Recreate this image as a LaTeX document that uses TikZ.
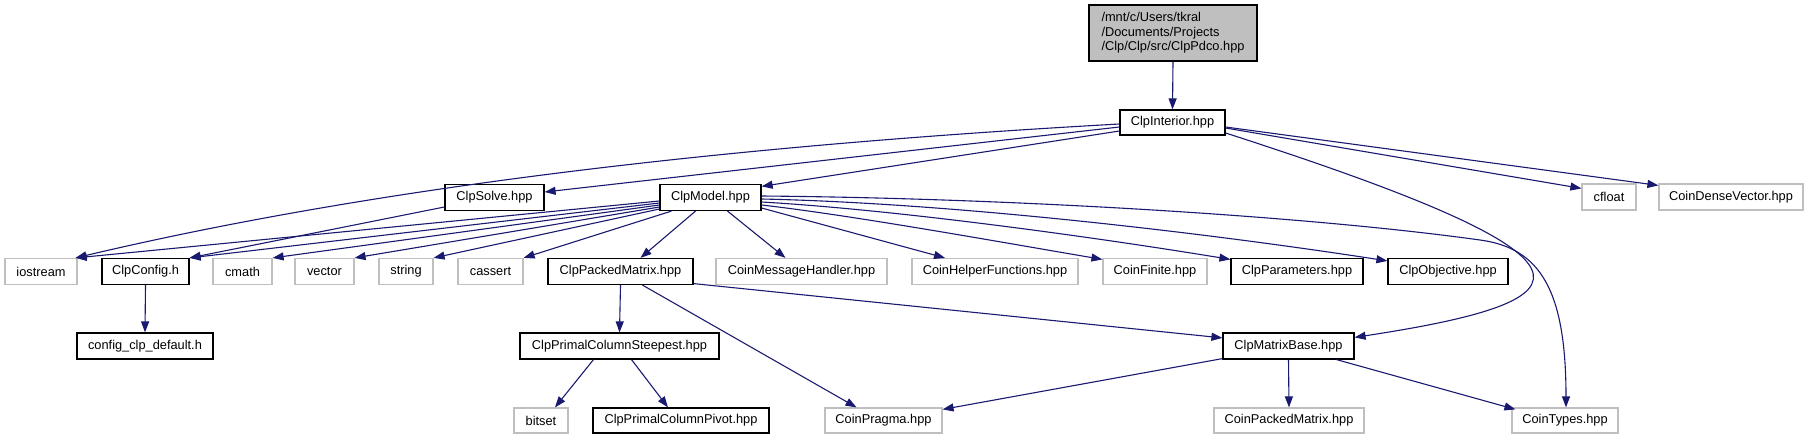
\documentclass[tikz,border=0pt]{standalone}
\usepackage{fontspec}
\setmainfont{Liberation Sans}
\usetikzlibrary{arrows.meta}
\definecolor{edgecol}{HTML}{191970}
\definecolor{grayb}{HTML}{BFBFBF}
\begin{document}
\begin{tikzpicture}[x=1pt,y=-1pt,
  box/.style={draw=black, line width=1.2pt, inner sep=0pt, minimum height=26pt, fill=white,
              font=\fontsize{12.8pt}{14.5pt}\selectfont},
  ext/.style={box, draw=grayb},
  edge/.style={draw=edgecol, line width=1.1pt, -{Triangle[length=11pt,width=8pt]}},
]
\useasboundingbox (0,0) rectangle (1812,440);
% nodes
\node[box, fill=grayb, minimum width=168pt, minimum height=56pt, align=left] (top) at (1173,33)
  {/mnt/c/Users/tkral\\/Documents/Projects\\/Clp/Clp/src/ClpPdco.hpp};
\node[box, minimum width=105pt, minimum height=25pt] (interior) at (1172.5,122.5) {ClpInterior.hpp};
\node[box, minimum width=99pt] (solve) at (494.5,197.5) {ClpSolve.hpp};
\node[box, minimum width=101pt] (model) at (710.5,197.5) {ClpModel.hpp};
\node[ext, minimum width=54pt] (cfloat) at (1609,197) {cfloat};
\node[ext, minimum width=144pt] (dense) at (1731,197) {CoinDenseVector.hpp};
% row 3
\node[ext, minimum width=72pt] (iostream) at (41,271.5) {iostream};
\node[box, minimum width=87pt] (config) at (145.5,271.5) {ClpConfig.h};
\node[ext, minimum width=59pt] (cmath) at (242.5,271.5) {cmath};
\node[ext, minimum width=59pt] (vector) at (324.5,271.5) {vector};
\node[ext, minimum width=54pt] (string) at (406,271.5) {string};
\node[ext, minimum width=65pt] (cassert) at (490.5,271.5) {cassert};
\node[box, minimum width=145pt] (packed) at (620.5,271.5) {ClpPackedMatrix.hpp};
\node[ext, minimum width=171pt] (msg) at (801.5,271.5) {CoinMessageHandler.hpp};
\node[ext, minimum width=166pt] (helper) at (995,271.5) {CoinHelperFunctions.hpp};
\node[ext, minimum width=104pt] (finite) at (1155,271.5) {CoinFinite.hpp};
\node[box, minimum width=132pt] (params) at (1297,271.5) {ClpParameters.hpp};
\node[box, minimum width=120pt] (objective) at (1448,271.5) {ClpObjective.hpp};
% row 4
\node[box, minimum width=136pt] (defaultcfg) at (145,346) {config\_clp\_default.h};
\node[box, minimum width=199pt] (steepest) at (619.5,346) {ClpPrimalColumnSteepest.hpp};
\node[box, minimum width=131pt] (matrixbase) at (1288.5,346) {ClpMatrixBase.hpp};
% row 5
\node[ext, minimum width=54pt, minimum height=25pt] (bitset) at (541,420.5) {bitset};
\node[box, minimum width=176pt, minimum height=25pt] (pivot) at (681,420.5) {ClpPrimalColumnPivot.hpp};
\node[ext, minimum width=117pt, minimum height=25pt] (pragma) at (883.5,420.5) {CoinPragma.hpp};
\node[ext, minimum width=150pt, minimum height=25pt] (coinpacked) at (1289,420.5) {CoinPackedMatrix.hpp};
\node[ext, minimum width=106pt, minimum height=25pt] (cointypes) at (1565,420.5) {CoinTypes.hpp};
% edges
\draw[edge] (top.south) -- (interior.north);
\draw[edge] ([yshift=-1.5pt]interior.west) .. controls (650,150) and (320,200) .. ([xshift=-2pt]iostream.north east);
\draw[edge] ([yshift=-4.5pt]interior.west) -- ([yshift=5.5pt]solve.east);
\draw[edge] ([yshift=-8.5pt]interior.west) -- ([yshift=-2.5pt]model.north east);
\draw[edge] ([yshift=-5.5pt]interior.east) -- ([yshift=-5pt]cfloat.north west);
\draw[edge] ([yshift=-4.5pt]interior.east) -- ([yshift=-2pt]dense.north west);
\draw[edge] ([yshift=-10.5pt]interior.east) .. controls (1620,260) and (1600,300) .. ([yshift=-5pt]matrixbase.north east);
\draw[edge] ([yshift=-9.5pt]solve.west) -- (config.north east);
% ClpModel
\draw[edge] ([yshift=-3.5pt]model.west) -- ([xshift=-2pt]iostream.north east);
\draw[edge] ([yshift=-5.5pt]model.west) -- (config.north east);
\draw[edge] ([yshift=-7.5pt]model.west) -- (cmath.north east);
\draw[edge] ([yshift=-9.5pt]model.west) -- (vector.north east);
\draw[edge] ([yshift=-11.5pt]model.west) -- (string.north east);
\draw[edge] ([xshift=12pt]model.south west) -- (cassert.north east);
\draw[edge] ([xshift=-15pt]model.south) -- ([xshift=20pt]packed.north);
\draw[edge] ([xshift=17pt]model.south) -- ([xshift=-16pt]msg.north);
\draw[edge] ([yshift=-10.5pt]model.east) -- ([xshift=-50pt]helper.north);
\draw[edge] ([yshift=-7.5pt]model.east) .. controls (850,215) and (1000,242) .. ([yshift=-1.5pt]finite.north west);
\draw[edge] ([yshift=-4.5pt]model.east) .. controls (900,210) and (1100,238) .. ([yshift=-1.5pt]params.north west);
\draw[edge] ([yshift=-1.5pt]model.east) .. controls (950,203) and (1200,232) .. ([yshift=-3pt]objective.north west);
\draw[edge] ([yshift=1.5pt]model.east) .. controls (1000,198) and (1300,215) .. (1480,240)
  .. controls (1540,248) and (1566,290) .. ([xshift=1pt]cointypes.north);
% lower
\draw[edge] (config.south) -- (defaultcfg.north);
\draw[edge] (packed.south) -- (steepest.north);
\draw[edge] ([xshift=22pt]packed.south) -- ([xshift=-27pt]pragma.north);
\draw[edge] ([yshift=1.5pt]packed.south east) -- ([yshift=-5.5pt]matrixbase.north west);
\draw[edge] ([xshift=-26pt]steepest.south) -- ([xshift=14pt]bitset.north);
\draw[edge] ([xshift=12pt]steepest.south) -- ([xshift=-13pt]pivot.north);
\draw[edge] ([yshift=1pt]matrixbase.south west) -- ([yshift=-2pt]pragma.north east);
\draw[edge] (matrixbase.south) -- (coinpacked.north);
\draw[edge] ([xshift=48pt]matrixbase.south) -- ([xshift=4pt,yshift=-2pt]cointypes.north west);
\end{tikzpicture}
\end{document}
